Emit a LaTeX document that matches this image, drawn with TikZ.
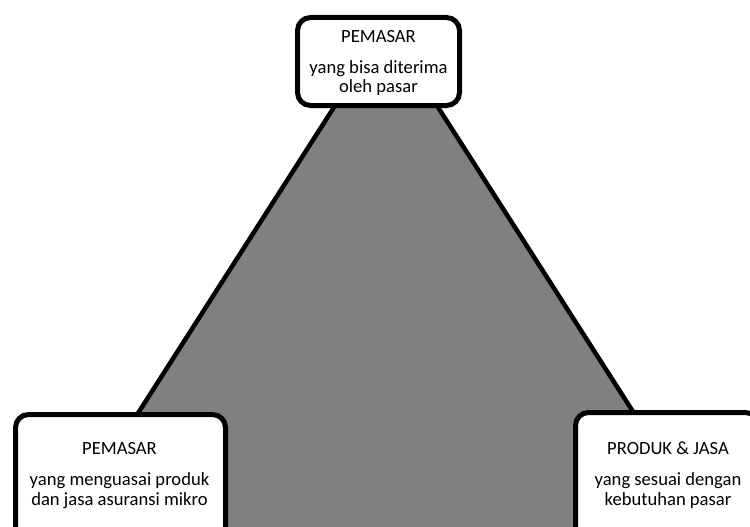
\documentclass[tikz,border=0pt]{standalone}
\usepackage{fontspec}
\setmainfont{Carlito}
\begin{document}
\begin{tikzpicture}[x=1pt,y=-1pt,
  box/.style={draw=black, line width=5pt, rounded corners=13pt, fill=white, inner sep=0pt},
  lbl/.style={font=\fontsize{18.6}{20}\selectfont, inner sep=0pt, anchor=base}]
\useasboundingbox (0,0) rectangle (750,527);
\begin{scope}
\clip (0,0) rectangle (750,527);
\coordinate (apex) at (386,26);
\coordinate (bl) at (44,560);
\coordinate (br) at (728,560);
\draw[line width=4.5pt, fill=black!50, line join=miter] (apex) -- (bl) -- (br) -- cycle;
\node[box, minimum width=162pt, minimum height=88pt] (top) at (378.5,61.5) {};
\node[box, minimum width=210pt, minimum height=146pt] (left) at (120.5,487.5) {};
\node[box, minimum width=183pt, minimum height=148pt] (right) at (667,486.5) {};
\end{scope}
\node[lbl] (t1) at (378.5,42.7) {PEMASAR};
\node[lbl] (t2) at (378.5,73.3) {yang bisa diterima};
\node[lbl] (t3) at (378.5,92.7) {oleh pasar};
\node[lbl] (l1) at (119.5,454) {PEMASAR};
\node[lbl] (l2) at (119.5,485.7) {yang menguasai produk};
\node[lbl] (l3) at (119.5,505.7) {dan jasa asuransi mikro};
\node[lbl] (r1) at (668,454) {PRODUK \& JASA};
\node[lbl] (r2) at (668,485.7) {yang sesuai dengan};
\node[lbl] (r3) at (668,505.7) {kebutuhan pasar};
\end{tikzpicture}
\end{document}
